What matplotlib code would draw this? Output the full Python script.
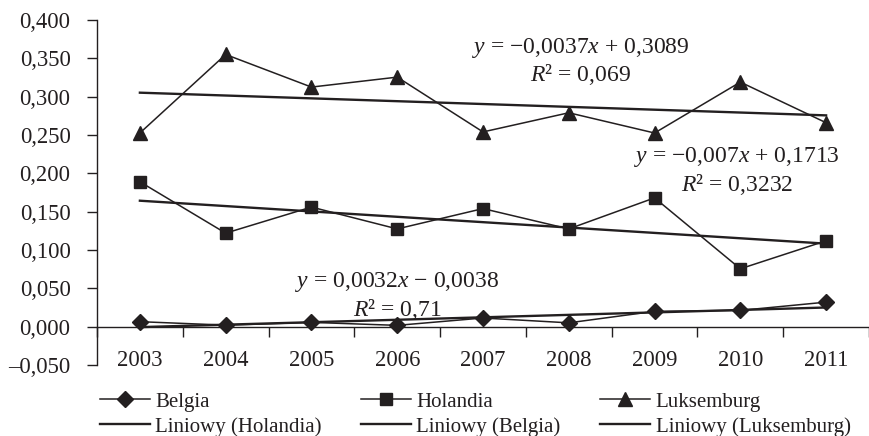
import matplotlib
matplotlib.use("Agg")
import matplotlib.pyplot as plt
import numpy as np
from matplotlib.ticker import FixedLocator, FuncFormatter, NullFormatter

plt.rcParams['font.family'] = ['Liberation Serif', 'DejaVu Serif']
plt.rcParams['mathtext.fontset'] = 'custom'
plt.rcParams['mathtext.rm'] = 'Liberation Serif'
plt.rcParams['mathtext.it'] = 'Liberation Serif:italic'

years = ['2003', '2004', '2005', '2006', '2007', '2008', '2009', '2010', '2011']
belgia = [0.0065, 0.0020, 0.0056, 0.0017, 0.0113, 0.0050, 0.0200, 0.0212, 0.0320]
holandia = [0.189, 0.122, 0.156, 0.1275, 0.154, 0.1275, 0.168, 0.0755, 0.112]
luksemburg = [0.2526, 0.355, 0.3125, 0.3255, 0.254, 0.279, 0.2526, 0.319, 0.266]

# Linear trend coefficients (slope, intercept), x = 1..9
trend_belgia = (0.0032, -0.0038)
trend_holandia = (-0.007, 0.1713)
trend_luksemburg = (-0.0037, 0.3089)
r2_belgia = '0,71'
r2_holandia = '0,3232'
r2_luksemburg = '0,069'

ink = '#231f20'
fs_tick = 16.3
fs_eq = 17
fs_leg = 15

fig = plt.figure(figsize=(8.69, 4.36), dpi=100)
ax = fig.add_axes([97 / 869, 1 - 365 / 436, (869 - 97) / 869, (365 - 20) / 436])

x = np.arange(len(years))
xt = x + 1

h_b, = ax.plot(x, belgia, color=ink, lw=1.1, marker='D', ms=8, label='Belgia')
h_h, = ax.plot(x, holandia, color=ink, lw=1.1, marker='s', ms=9, label='Holandia')
h_l, = ax.plot(x, luksemburg, color=ink, lw=1.1, marker='^', ms=10, label='Luksemburg')

t_h, = ax.plot(x, trend_holandia[0] * xt + trend_holandia[1], color=ink, lw=1.7,
               label='Liniowy (Holandia)')
t_b, = ax.plot(x, trend_belgia[0] * xt + trend_belgia[1], color=ink, lw=1.7,
               label='Liniowy (Belgia)')
t_l, = ax.plot(x, trend_luksemburg[0] * xt + trend_luksemburg[1], color=ink, lw=1.7,
               label='Liniowy (Luksemburg)')


def fmt_num(v, nd):
    return f'{abs(v):.{nd}f}'.replace('.', ',')


def eq_text(slope, intercept, nd_s, nd_i):
    sgn_s = '\u2212' if slope < 0 else ''
    sgn_i = '\u2212' if intercept < 0 else '+'
    return f'$y$ = {sgn_s}{fmt_num(slope, nd_s)}$x$ {sgn_i} {fmt_num(intercept, nd_i)}'


def put_eq(xc, y1, y2, trend, nd_s, nd_i, r2):
    ax.text(xc, y1, eq_text(trend[0], trend[1], nd_s, nd_i), ha='center', va='center',
            fontsize=fs_eq, color=ink)
    ax.text(xc, y2, f'$R$\u00b2 = {r2}', ha='center', va='center', fontsize=fs_eq, color=ink)


put_eq(5.14, 0.364, 0.329, trend_luksemburg, 4, 4, r2_luksemburg)
put_eq(6.965, 0.221, 0.185, trend_holandia, 3, 4, r2_holandia)
put_eq(3.0, 0.0586, 0.0222, trend_belgia, 4, 4, r2_belgia)

ax.set_xlim(-0.5, len(years) - 0.5)
ax.set_ylim(-0.05, 0.4)
ax.set_yticks(np.arange(-0.05, 0.4001, 0.05))
ax.yaxis.set_major_formatter(FuncFormatter(
    lambda v, p: ('\u2013' if v < -1e-9 else '') + f'{abs(v):.3f}'.replace('.', ',')))

for s in ['top', 'right']:
    ax.spines[s].set_visible(False)
ax.spines['left'].set_color(ink)
ax.spines['left'].set_linewidth(1.0)
ax.spines['bottom'].set_position(('data', 0))
ax.spines['bottom'].set_color(ink)
ax.spines['bottom'].set_linewidth(1.0)

ax.xaxis.set_major_locator(FixedLocator(np.arange(-0.5, len(years), 1.0)))
ax.xaxis.set_major_formatter(NullFormatter())
ax.xaxis.set_minor_locator(FixedLocator(x))
ax.set_xticklabels(years, minor=True)
ax.tick_params(axis='x', which='major', direction='out', length=7, width=1.0, color=ink)
ax.tick_params(axis='x', which='minor', length=0, pad=17, labelsize=fs_tick, labelcolor=ink)
ax.tick_params(axis='y', direction='out', length=7, width=1.0, color=ink, pad=12,
               labelsize=fs_tick, labelcolor=ink)

fig.legend(handles=[h_b, t_h, h_h, t_b, h_l, t_l], ncol=3, loc='upper left',
           bbox_to_anchor=(100 / 869, 1 - 392 / 436), frameon=False, fontsize=fs_leg,
           borderpad=0, borderaxespad=0, handlelength=2.4, handletextpad=0.25,
           columnspacing=1.9, labelspacing=0.25, numpoints=1, labelcolor=ink)

fig.savefig('out.png', dpi=100)
